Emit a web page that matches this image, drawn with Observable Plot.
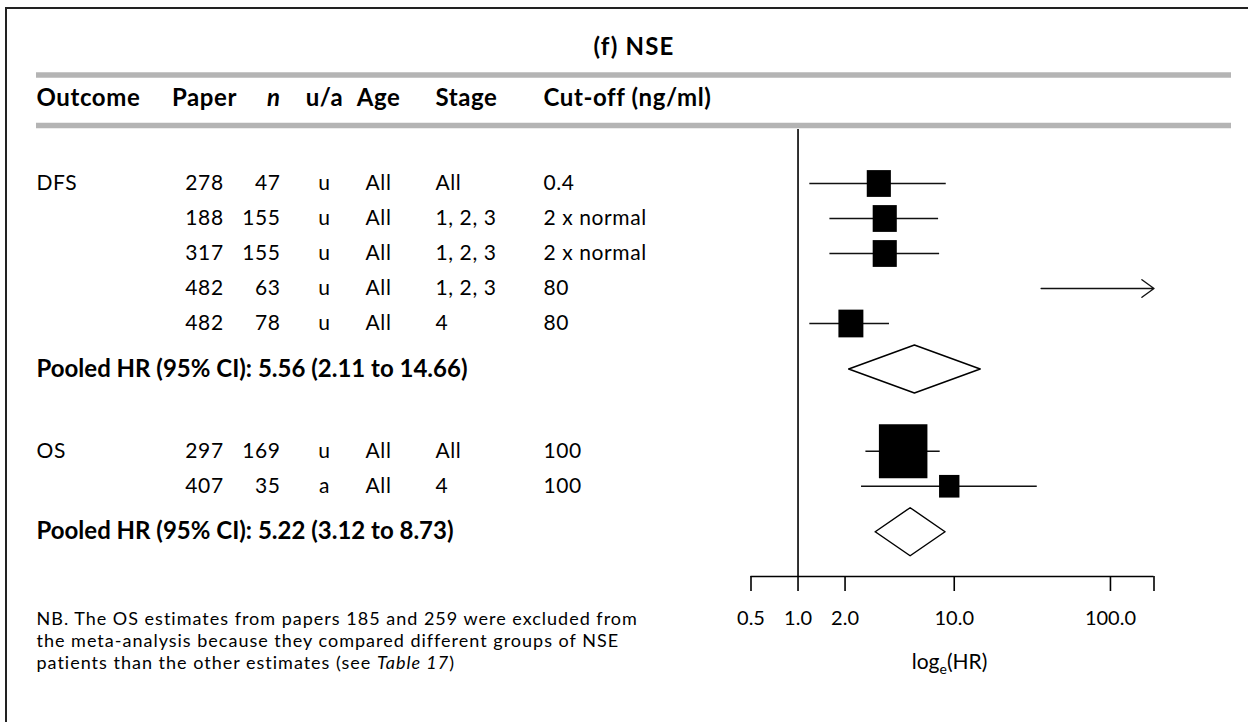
<!DOCTYPE html>
<html>
<head>
<meta charset="utf-8">
<script src="https://cdn.jsdelivr.net/npm/d3@7"></script>
<script src="https://cdn.jsdelivr.net/npm/@observablehq/plot@0.6"></script>
<style>
  html, body { margin: 0; padding: 0; background: #fff; }
  #chart { position: relative; width: 1248px; height: 722px; overflow: hidden; }
  #chart .box { position: absolute; left: 5px; top: 7px; width: 1300px; height: 800px;
                border-left: 2px solid #222; border-top: 2px solid #222; }
  #chart svg { position: absolute; left: 0; top: 0; }
</style>
</head>
<body>
<div id="chart"><div class="box"></div></div>
<script>
// ---- study table ----
const outcome   = ["DFS", "DFS", "DFS", "DFS", "DFS", "OS", "OS"];
const paper     = [278, 188, 317, 482, 482, 297, 407];
const nPatients = [47, 155, 155, 63, 78, 169, 35];
const adjusted  = ["u", "u", "u", "u", "u", "u", "a"];
const ageGroup  = ["All", "All", "All", "All", "All", "All", "All"];
const stage     = ["All", "1, 2, 3", "1, 2, 3", "1, 2, 3", "4", "All", "4"];
const cutoff    = ["0.4", "2 x normal", "2 x normal", "80", "80", "100", "100"];

// hazard ratios with 95% CI (null = beyond the plotted range)
const hr      = [3.29, 3.59, 3.59, null, 2.18, 4.71, 9.29];
const hrLower = [1.19, 1.60, 1.60, 36, 1.19, 2.72, 2.55];
const hrUpper = [8.89, 7.94, 8.06, null, 3.85, 8.13, 34.0];
const weight  = [21, 21, 21, null, 22.5, 85, 15];   // % weight within outcome

// pooled estimates
const pooledOutcome = ["DFS", "OS"];
const pooledHR      = [5.56, 5.22];
const pooledLower   = [2.11, 3.12];
const pooledUpper   = [14.66, 8.73];

// text
const title      = "(f) NSE";
const headers    = ["Outcome", "Paper", "n", "u/a", "Age", "Stage", "Cut-off (ng/ml)"];
const axisTicks  = [0.5, 1, 2, 10, 100];
const axisMin    = 0.5;
const axisMax    = 190;
const axisLabel  = "log\u2091(HR)";
const noteLines  = [
  "NB. The OS estimates from papers 185 and 259 were excluded from",
  "the meta-analysis because they compared different groups of NSE",
  "patients than the other estimates (see Table 17)"
];

// ---- layout ----
const FONT = "Lato, 'Noto Sans', sans-serif";
const W = 1248, H = 722;
const M = {top: 129, right: 17, bottom: 146, left: 36};
const ROW_PX = 35;                 // one study line
const FIRST_ROW_PX = 183;          // page y of the first study line
const atPx = y => (y - FIRST_ROW_PX) / ROW_PX;
const POOLED_GAP = 1.3, GROUP_GAP = 2.35;

const studies = paper.map((p, i) => ({
  outcome: outcome[i], paper: p, n: nPatients[i], ua: adjusted[i], age: ageGroup[i],
  stage: stage[i], cutoff: cutoff[i], hr: hr[i], lo: hrLower[i], hi: hrUpper[i], w: weight[i]
}));
const pooled = [];
let row = 0;
pooledOutcome.forEach((g, gi) => {
  const members = studies.filter(d => d.outcome === g);
  members.forEach((d, j) => { d.row = row; d.first = j === 0; row += 1; });
  const pr = members[members.length - 1].row + POOLED_GAP;
  pooled.push({outcome: g, hr: pooledHR[gi], lo: pooledLower[gi], hi: pooledUpper[gi], row: pr});
  row = pr + GROUP_GAP;
});
const pooledText = d => `Pooled HR (95% CI): ${d.hr.toFixed(2)} (${d.lo.toFixed(2)} to ${d.hi.toFixed(2)})`;

const frameTop = M.top, frameBottom = H - M.bottom;
const yDomain = [atPx(frameTop), atPx(frameBottom)];
const TICK_LEN = 15 / ROW_PX;

// pooled diamonds as closed outlines
const DIAMOND_H = 24 / ROW_PX;
const diamondPts = pooled.flatMap(d => [
  {g: d.outcome, x: d.lo, y: d.row},
  {g: d.outcome, x: d.hr, y: d.row - DIAMOND_H},
  {g: d.outcome, x: d.hi, y: d.row},
  {g: d.outcome, x: d.hr, y: d.row + DIAMOND_H},
  {g: d.outcome, x: d.lo, y: d.row}
]);

// study boxes: area proportional to weight, slightly taller than wide
const boxSymbol = {
  draw(ctx, size) {
    const w = Math.sqrt(size * 0.9), h = size / w;
    ctx.moveTo(-w / 2, -h / 2); ctx.lineTo(w / 2, -h / 2);
    ctx.lineTo(w / 2, h / 2); ctx.lineTo(-w / 2, h / 2); ctx.closePath();
  }
};

const BODY = 21, HEAD = 24;
const headerRow = atPx(98);
const NOTE_LINE = 21.8;

// one table column: bold header + study values
function column(i, key, dx, anchor, headerStyle = {}) {
  return [
    Plot.text([headers[i]], {y: () => headerRow, text: d => d, frameAnchor: "left", dx,
      textAnchor: anchor, fontSize: HEAD, fontWeight: "bold", fill: "black", ...headerStyle}),
    Plot.text(studies, {y: "row", text: key, frameAnchor: "left", dx,
      textAnchor: anchor, fontSize: BODY, fill: "black"})
  ];
}

const chart = Plot.plot({
  width: W, height: H,
  marginTop: M.top, marginRight: M.right, marginBottom: M.bottom, marginLeft: M.left,
  style: {fontFamily: FONT, background: "transparent", overflow: "visible"},
  x: {type: "log", domain: [axisMin, axisMax], range: [750.5, 1153.5], axis: null},
  y: {type: "linear", domain: yDomain, range: [frameTop, frameBottom], axis: null},
  r: {type: "sqrt", domain: [0, 100], range: [0, 31.3]},
  marks: [
    // title and header band
    Plot.text([title], {y: () => atPx(47), text: d => d, fontSize: 24, fontWeight: "bold", fill: "black"}),
    Plot.ruleY([atPx(74.5), atPx(125)], {stroke: "#b4b4b4", strokeWidth: 5.5}),
    column(0, d => d.first ? d.outcome : "", 0, "start"),
    column(1, "paper", 168, "middle"),
    column(2, "n", 244, "end", {fontStyle: "italic"}),
    column(3, "ua", 288, "middle"),
    column(4, "age", 342, "middle"),
    column(5, "stage", 399, "start"),
    column(6, "cutoff", 507, "start"),
    Plot.text(pooled, {y: "row", frameAnchor: "left", textAnchor: "start", fontSize: 24, fontWeight: "bold",
      fill: "black", text: pooledText}),
    Plot.text(noteLines, {y: (d, i) => atPx(619 + i * NOTE_LINE), text: d => d, frameAnchor: "left",
      textAnchor: "start", fontSize: 18, fill: "black"}),

    // forest plot
    Plot.ruleX([1], {stroke: "black", strokeWidth: 1.6}),
    Plot.ruleY(studies.filter(d => d.hi != null), {y: "row", x1: "lo", x2: "hi", stroke: "#111", strokeWidth: 1.4}),
    Plot.arrow(studies.filter(d => d.hi == null), {x1: "lo", x2: () => axisMax, y1: "row", y2: "row",
      stroke: "#111", strokeWidth: 1.4, headLength: 16, headAngle: 72}),
    Plot.dot(studies.filter(d => d.hr != null), {x: "hr", y: "row", r: "w", symbol: boxSymbol, fill: "black", stroke: "none"}),
    Plot.line(diamondPts, {x: "x", y: "y", z: "g", fill: "white", stroke: "black", strokeWidth: 1.5}),

    // axis
    Plot.ruleY([yDomain[1]], {x1: axisMin, x2: axisMax, stroke: "black", strokeWidth: 1.6}),
    Plot.ruleX([...axisTicks, axisMax], {x: d => d, y1: () => yDomain[1], y2: () => yDomain[1] + TICK_LEN,
      stroke: "black", strokeWidth: 1.6}),
    Plot.text(axisTicks, {x: d => d, y: () => atPx(618), text: d => d.toFixed(1), fontSize: 20, fill: "black"}),
    Plot.text([axisLabel], {x: () => Math.sqrt(axisMin * axisMax), y: () => atPx(662), dx: -3, text: d => d,
      fontSize: 21, fill: "black"})
  ]
});

document.getElementById("chart").appendChild(chart);

// letter spacing by text role
const pooledLabels = pooled.map(pooledText);
const studyCells = new Set(studies.flatMap(d => [d.outcome, d.paper, d.n, d.ua, d.age, d.stage, d.cutoff].map(String)));
function trackingFor(t) {
  if (t === title) return 1.2;
  if (headers.includes(t)) return 0.6;
  if (pooledLabels.includes(t)) return 0;
  if (noteLines.includes(t)) return 1.0;
  if (studyCells.has(t)) return 0.6;
  return 0;
}
d3.select(chart).selectAll("text").each(function () {
  const v = trackingFor(this.textContent);
  if (v) this.setAttribute("letter-spacing", v);
});

// typographic touches: subscript in the axis label, italic table reference
d3.select(chart).selectAll("text").each(function () {
  const t = this.textContent;
  const s = d3.select(this);
  if (t.includes("\u2091")) {
    const [a, b] = t.split("\u2091");
    s.text(null);
    s.append("tspan").text(a);
    s.append("tspan").attr("font-size", 14).attr("dy", 5).text("e");
    s.append("tspan").attr("dy", -5).text(b);
  } else if (t.includes("Table 17")) {
    const [a, b] = t.split("Table 17");
    s.text(null);
    s.append("tspan").text(a);
    s.append("tspan").attr("font-style", "italic").text("Table 17");
    s.append("tspan").text(b);
  }
});
</script>
</body>
</html>
